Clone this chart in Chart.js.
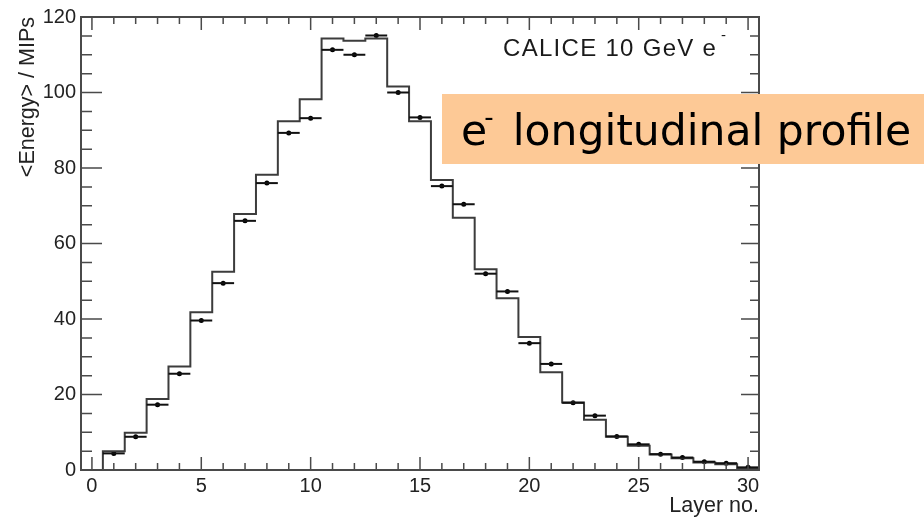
<!DOCTYPE html>
<html>
<head>
<meta charset="utf-8">
<script src="https://cdn.jsdelivr.net/npm/chart.js@4"></script>
<style>
  body { margin: 0; background: #fff; }
  #wrap { width: 924px; height: 518px; }
</style>
</head>
<body>
<div id="wrap"><canvas id="grafico" width="924" height="518"></canvas></div>
<script>
// layer numbers and mean energy per layer (MIPs)
const layers = [1, 2, 3, 4, 5, 6, 7, 8, 9, 10, 11, 12, 13, 14, 15, 16, 17, 18, 19, 20, 21, 22, 23, 24, 25, 26, 27, 28, 29, 30];
const simEnergy = [5.0, 9.9, 18.8, 27.4, 41.8, 52.5, 67.8, 78.2, 92.4, 98.2, 114.3, 113.7, 114.3, 101.6, 92.4, 76.8, 66.8, 53.2, 45.5, 35.2, 25.9, 17.9, 13.3, 8.8, 6.4, 4.1, 3.1, 2.0, 1.5, 0.5];
const dataEnergy = [4.4, 8.8, 17.3, 25.5, 39.6, 49.5, 66.0, 76.0, 89.3, 93.2, 111.3, 110.0, 115.1, 100.0, 93.4, 75.2, 70.4, 52.0, 47.3, 33.6, 28.1, 17.8, 14.4, 8.9, 6.8, 4.2, 3.3, 2.2, 1.8, 0.7];
const xTicks = [0, 5, 10, 15, 20, 25, 30];
const yTicks = [0, 20, 40, 60, 80, 100, 120];

const binHalf = 0.5;

// histogram outline: left edge of every bin, closed back to zero at both ends
const histPoints = [{ x: layers[0] - binHalf, y: 0 }];
layers.forEach((l, i) => histPoints.push({ x: l - binHalf, y: simEnergy[i] }));
histPoints.push({ x: layers[layers.length - 1] + binHalf, y: 0 });

const dataPoints = layers.map((l, i) => ({ x: l, y: dataEnergy[i] }));

const corFrame = "#4a4a4a";
const fonte = "'Liberation Sans', Arial, sans-serif";

// horizontal bars across each bin for the data points
const barrasErro = {
  id: "barrasErro",
  afterDatasetsDraw(chart) {
    const { ctx, scales: { x, y } } = chart;
    ctx.save();
    ctx.strokeStyle = "#111";
    ctx.lineWidth = 2;
    dataPoints.forEach(p => {
      const py = y.getPixelForValue(p.y);
      ctx.beginPath();
      ctx.moveTo(x.getPixelForValue(p.x - binHalf), py);
      ctx.lineTo(x.getPixelForValue(p.x + binHalf), py);
      ctx.stroke();
    });
    ctx.restore();
  }
};

// box around the plot with inward major and minor ticks on all four sides
const moldura = {
  id: "moldura",
  afterDraw(chart) {
    const { ctx, chartArea: a, scales: { x, y } } = chart;
    ctx.save();
    ctx.strokeStyle = corFrame;
    ctx.lineWidth = 2;
    ctx.strokeRect(a.left, a.top, a.right - a.left, a.bottom - a.top);

    ctx.lineWidth = 1.5;
    ctx.beginPath();
    for (let v = 0; v <= 30; v++) {
      const px = x.getPixelForValue(v);
      const len = v % 5 === 0 ? 13 : 7;
      ctx.moveTo(px, a.bottom);
      ctx.lineTo(px, a.bottom - len);
      ctx.moveTo(px, a.top);
      ctx.lineTo(px, a.top + len);
    }
    for (let v = 0; v <= 120; v += 5) {
      const py = y.getPixelForValue(v);
      const major = v % 20 === 0;
      ctx.moveTo(a.left, py);
      ctx.lineTo(a.left + (major ? 21 : 11), py);
      ctx.moveTo(a.right, py);
      ctx.lineTo(a.right - (major ? 18 : 9), py);
    }
    ctx.stroke();

    // run label in the upper right corner
    ctx.fillStyle = "#1a1a1a";
    ctx.font = "24px " + fonte;
    ctx.letterSpacing = "1.3px";
    ctx.textBaseline = "alphabetic";
    ctx.textAlign = "left";
    ctx.fillText("CALICE 10 GeV e", 503, 56);
    ctx.letterSpacing = "0px";
    ctx.font = "15px " + fonte;
    ctx.fillText("-", 721, 40);

    // orange caption box
    ctx.fillStyle = "#fdc996";
    ctx.fillRect(442, 94, 924 - 442, 70);
    ctx.fillStyle = "#000";
    ctx.font = "42.5px 'DejaVu Sans', Verdana, sans-serif";
    ctx.fillText("e", 461, 145);
    const eW = ctx.measureText("e").width;
    ctx.fillText(" longitudinal profile", 461 + eW + 12, 145);
    ctx.font = "26px 'DejaVu Sans', Verdana, sans-serif";
    ctx.fillText("-", 461 + eW - 3, 126);
    ctx.restore();
  }
};

const ctx = document.getElementById("grafico").getContext("2d");

new Chart(ctx, {
  type: "scatter",
  data: {
    datasets: [
      {
        type: "line",
        label: "sim",
        data: histPoints,
        stepped: "before",
        borderColor: "#3c3c3c",
        borderWidth: 2,
        pointRadius: 0,
        fill: false
      },
      {
        label: "data",
        data: dataPoints,
        pointRadius: 2.5,
        pointBackgroundColor: "#000",
        pointBorderColor: "#000",
        pointBorderWidth: 0
      }
    ]
  },
  options: {
    responsive: false,
    animation: false,
    layout: { padding: { left: 0, top: 12, right: 165, bottom: 0 } },
    plugins: { legend: { display: false }, tooltip: { enabled: false } },
    scales: {
      x: {
        type: "linear",
        min: -0.5,
        max: 30.5,
        afterBuildTicks: s => { s.ticks = xTicks.map(v => ({ value: v })); },
        afterFit: s => { s.height = 48; },
        grid: { display: false, drawTicks: false },
        border: { display: false },
        ticks: { color: "#222", font: { family: fonte, size: 20 }, padding: 4, maxRotation: 0 },
        title: {
          display: true,
          text: "Layer no.",
          align: "end",
          color: "#222",
          font: { family: fonte, size: 21.5 },
          padding: { top: 0, bottom: -1 }
        }
      },
      y: {
        min: 0,
        max: 120,
        afterBuildTicks: s => { s.ticks = yTicks.map(v => ({ value: v })); },
        afterFit: s => { s.width = 81; },
        grid: { display: false, drawTicks: false },
        border: { display: false },
        ticks: { color: "#222", font: { family: fonte, size: 20 }, padding: 5 },
        title: {
          display: true,
          text: "<Energy> / MIPs",
          align: "end",
          color: "#222",
          font: { family: fonte, size: 21.5 },
          padding: { top: 15, bottom: 0 }
        }
      }
    }
  },
  plugins: [barrasErro, moldura]
});
</script>
</body>
</html>
